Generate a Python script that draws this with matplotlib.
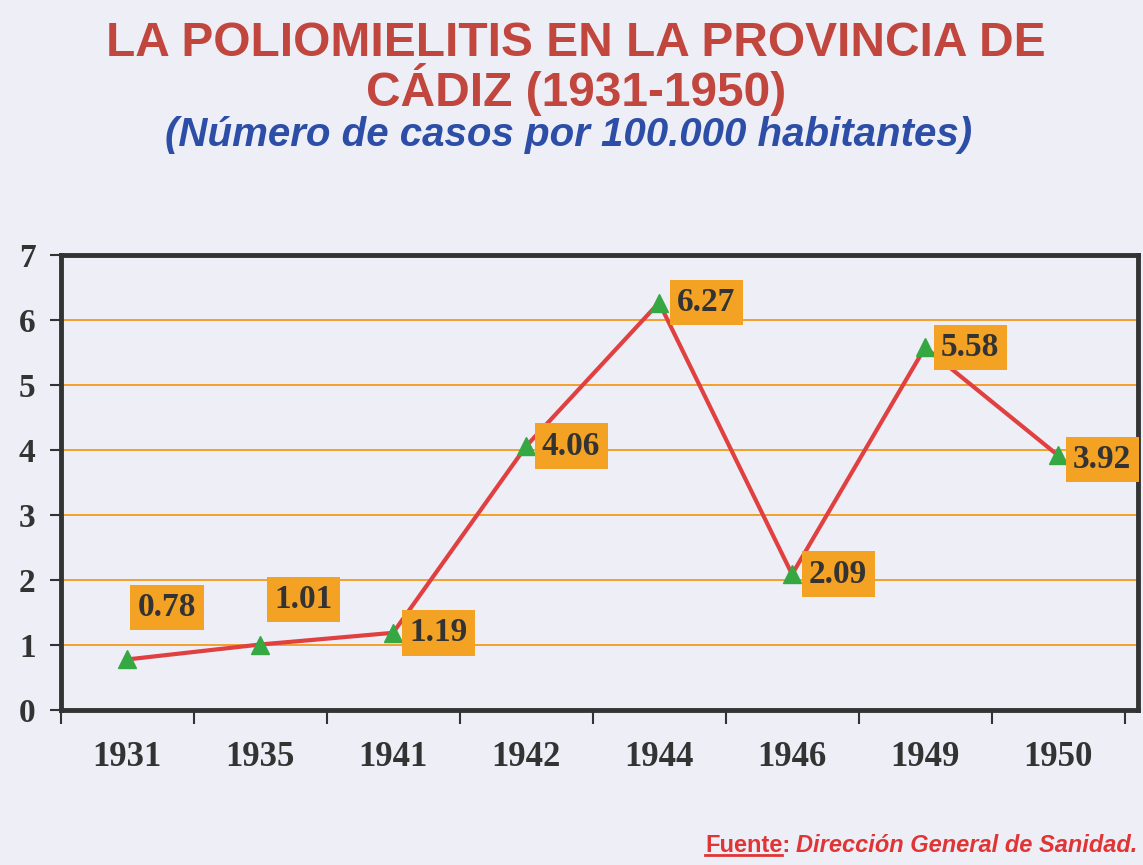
import matplotlib
matplotlib.use("Agg")
import matplotlib.pyplot as plt
from matplotlib.ticker import FixedLocator
from matplotlib.lines import Line2D

years = ["1931", "1935", "1941", "1942", "1944", "1946", "1949", "1950"]
values = [0.78, 1.01, 1.19, 4.06, 6.27, 2.09, 5.58, 3.92]
value_labels = ["0.78", "1.01", "1.19", "4.06", "6.27", "2.09", "5.58", "3.92"]
y_ticks = [0, 1, 2, 3, 4, 5, 6, 7]

title_line1 = "LA POLIOMIELITIS EN LA PROVINCIA DE"
title_line2 = "CÁDIZ (1931-1950)"
subtitle = "(Número de casos por 100.000 habitantes)"
source_head = "Fuente:"
source_body = "Dirección General de Sanidad."

# label offsets in pixels (styling)
label_offsets = [(40, 52), (43, 45), (45, 0), (45, 0), (47, 0), (46, 0), (45, 0), (44, -4)]

BG = "#EEEEF7"
fig = plt.figure(figsize=(11.43, 8.65), dpi=100, facecolor=BG)
ax = fig.add_axes([0.053, 0.179, 0.9425, 0.526])
ax.set_facecolor(BG)

x = list(range(len(years)))
ax.set_xlim(-0.5, len(years) - 0.4)
ax.set_ylim(0, 7)

for yv in y_ticks[1:-1]:
    ax.axhline(yv, color="#F5A02A", lw=1.4, zorder=1)

ax.plot(x, values, color="#E04040", lw=3, zorder=3)
ax.plot(x, values, linestyle="none", marker="^", markersize=13,
        color="#35A843", zorder=4)

serif = ["Liberation Serif", "DejaVu Serif"]
for xi, v, lab, off in zip(x, values, value_labels, label_offsets):
    ax.annotate(lab, (xi, v), xytext=off, textcoords="offset pixels",
                ha="center", va="center", fontsize=24, fontweight="bold",
                family=serif, color="#333333",
                bbox=dict(boxstyle="square,pad=0.22", fc="#F4A224", ec="none"),
                zorder=5, annotation_clip=False)

for s in ax.spines.values():
    s.set_linewidth(3.5)
    s.set_color("#333333")

ax.set_yticks(y_ticks)
ax.set_yticklabels([str(t) for t in y_ticks], fontsize=24, fontweight="bold",
                   family=serif, color="#333333")
ax.tick_params(axis="y", length=8, width=1.5, color="#333333", pad=10)

ax.set_xticks(x)
ax.set_xticklabels(years, fontsize=25, fontweight="bold",
                   family=serif, color="#333333")
ax.tick_params(axis="x", which="major", length=0, pad=22)
ax.xaxis.set_minor_locator(FixedLocator([i - 0.5 for i in range(len(years) + 1)]))
ax.tick_params(axis="x", which="minor", length=10, width=1.5, color="#333333")

title_font = ["Liberation Sans", "DejaVu Sans"]
fig.text(0.504, 0.950, title_line1, ha="center", va="center", fontsize=34.5,
         fontweight="bold", family=title_font, color="#C0463E")
fig.text(0.504, 0.897, title_line2, ha="center", va="center", fontsize=34.5,
         fontweight="bold", family=title_font, color="#C0463E")
fig.text(0.497, 0.844, subtitle, ha="center", va="center", fontsize=29,
         fontweight="bold", style="italic", family=title_font, color="#2D4EA6")

src_color = "#E03535"
fs_src = 17
t_head = fig.text(705 / 1143, 0.009, source_head, ha="left", va="bottom",
                  fontsize=fs_src, fontweight="bold", family=title_font,
                  color=src_color)
fig.canvas.draw()
r = fig.canvas.get_renderer()
bb = t_head.get_window_extent(r)
W, H = fig.bbox.width, fig.bbox.height
t_tmp = fig.text(0, 0, "Fuente", fontsize=fs_src, fontweight="bold", family=title_font)
wb = t_tmp.get_window_extent(r)
t_tmp.remove()
uy = (bb.y0 + 2) / H
fig.add_artist(Line2D([bb.x0 / W, (bb.x0 + wb.width) / W], [uy, uy],
                      transform=fig.transFigure, color=src_color, lw=2))
fig.text((bb.x1 + 6) / W, 0.009, source_body, ha="left", va="bottom",
         fontsize=fs_src, fontweight="bold", style="italic", family=title_font,
         color=src_color)

fig.savefig("out.png", dpi=100, facecolor=BG)
